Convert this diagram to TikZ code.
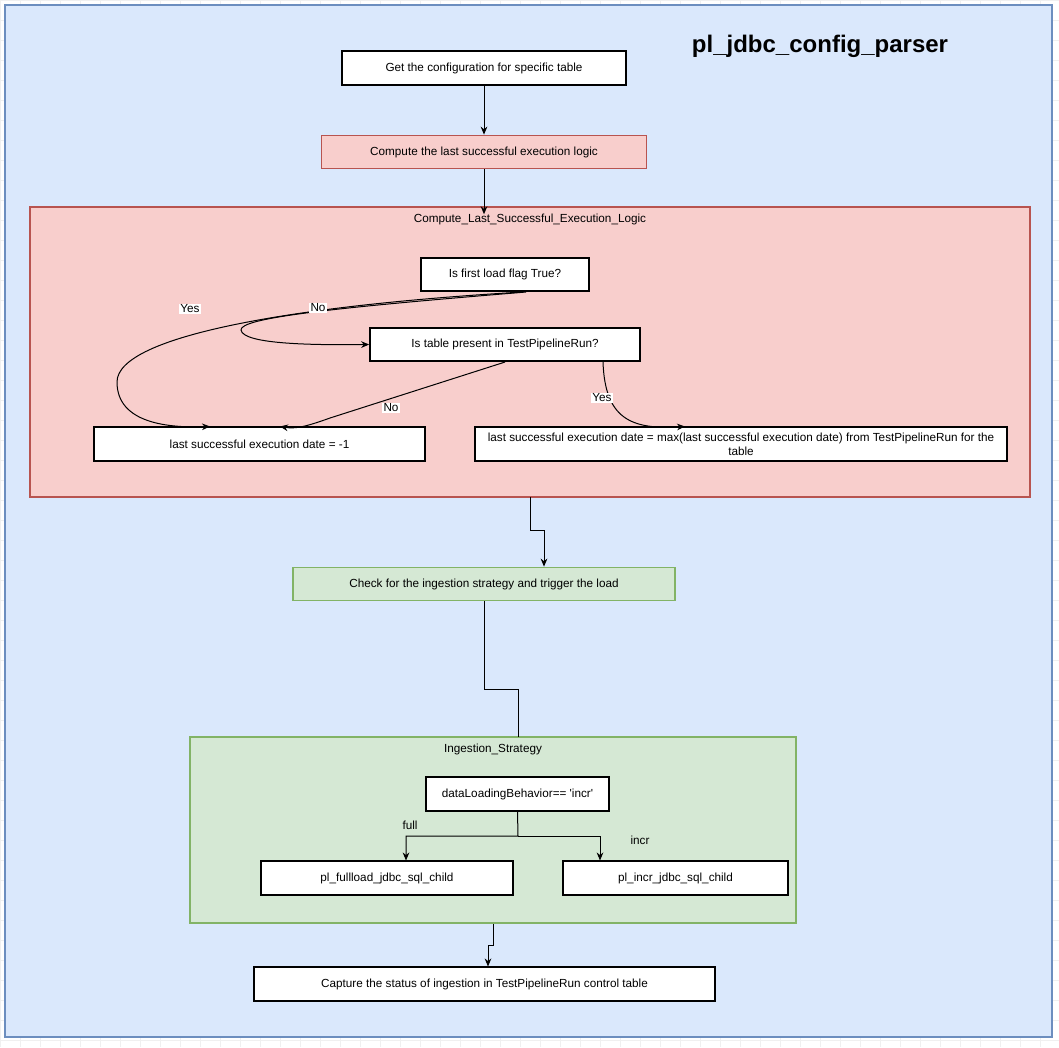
\documentclass[tikz,border=0pt]{standalone}
\usepackage{fontspec}
\setmainfont{Liberation Sans}
\usetikzlibrary{arrows.meta,positioning,calc}
\definecolor{panelblue}{HTML}{DAE8FC}
\definecolor{panelblueline}{HTML}{6C8EBF}
\definecolor{logicpink}{HTML}{F8CECC}
\definecolor{logicpinkline}{HTML}{B85450}
\definecolor{strategygreen}{HTML}{D5E8D4}
\definecolor{strategygreenline}{HTML}{82B366}
\tikzset{
  txt/.style={font=\fontsize{8.8}{10.5}\selectfont},
  stepbox/.style={txt, draw=black, line width=1.3pt, fill=white, inner sep=2pt, minimum height=25pt, align=center},
  pinkbox/.style={stepbox, fill=logicpink, draw=logicpinkline, line width=1.1pt},
  greenbox/.style={stepbox, fill=strategygreen, draw=strategygreenline, line width=1.1pt},
  groupbox/.style={draw, line width=1.1pt, inner sep=0pt},
  edgelabel/.style={txt, fill=white, inner sep=1pt},
  flow/.style={-{Stealth[length=6pt,width=5pt]}, line width=0.75pt},
}

\begin{document}
\begin{tikzpicture}[x=0.75pt, y=-0.75pt]
\useasboundingbox (0,0) rectangle (1059,1047);
% canvas grid and outer panel
\foreach \gx in {0,20,...,1060} \draw[black!6] (\gx,0) -- (\gx,1047);
\foreach \gy in {0,20,...,1040} \draw[black!6] (0,\gy) -- (1059,\gy);
\draw[fill=panelblue, draw=panelblueline, line width=1.1pt] (5,5) rectangle (1052,1037);
\node[font=\fontsize{18}{21}\selectfont\bfseries] (title) at (820,46) {pl\_jdbc\_config\_parser};

% top steps
\node[stepbox, minimum width=213pt] (config) at (484,68) {Get the configuration for specific table};
\node[pinkbox, minimum width=243.75pt] (compute) at (484,152) {Compute the last successful execution logic};

% compute group
\node[groupbox, fill=logicpink, draw=logicpinkline, minimum width=750pt, minimum height=217.5pt] (logic) at (530,352) {};
\node[txt] (logictitle) at (530,219) {Compute\_Last\_Successful\_Execution\_Logic};
\node[stepbox, minimum width=126pt] (firstload) at (505,274.5) {Is first load flag True?};
\node[stepbox, minimum width=202.5pt] (present) at (505,344.5) {Is table present in TestPipelineRun?};
\node[stepbox, minimum width=248.25pt] (minusone) at (259.5,444) {last successful execution date = -1};
\node[stepbox, minimum width=399pt, inner sep=1pt] (maxdate) at (741,444)
  {last successful execution date = max(last successful execution date) from TestPipelineRun for the\\table};

\draw[flow] (config) -- (compute);
\draw[flow] (compute.south) -- ($(compute.south |- logic.north)+(0,8)$);

% decisions
\draw[flow] ($(firstload.south)+(17,0)$) .. controls (300,305) and (117,335) .. (117,382)
  .. controls (117,424) and (170,428) .. ($(minusone.north)+(-49.5,0)$);
\draw[flow] ($(firstload.south)+(21,0)$) .. controls (330,308) and (240,318) .. (241,330)
  .. controls (243,345) and (320,345) .. (present.west);
\draw[flow] (present.south) -- (330,418) .. controls (305,427) and (295,429) .. ($(minusone.north)+(20.5,0)$);
\draw[flow] ($(present.south)+(98,0)$) .. controls (605,418) and (630,430) .. ($(maxdate.north)+(-56,0)$);
\node[edgelabel] (yesfirst) at (190,309) {Yes};
\node[edgelabel] (nofirst) at (318,308) {No};
\node[edgelabel] (nopresent) at (391,408) {No};
\node[edgelabel] (yespresent) at (602,398) {Yes};

% ingestion strategy
\node[greenbox, minimum width=286.5pt] (check) at (484,584) {Check for the ingestion strategy and trigger the load};
\draw[flow] (530,497) -- (530,530) -| ($(check.north)+(60,0)$);

\node[groupbox, fill=strategygreen, draw=strategygreenline, minimum width=454.5pt, minimum height=139.5pt] (strategy) at (493,830) {};
\node[txt] (strategytitle) at (493,749) {Ingestion\_Strategy};
\node[stepbox, minimum width=137.25pt] (behavior) at (517.5,794) {dataLoadingBehavior== \textquotesingle incr\textquotesingle};
\node[stepbox, minimum width=189pt] (fullchild) at (387,878) {pl\_fullload\_jdbc\_sql\_child};
\node[stepbox, minimum width=168.75pt] (incrchild) at (675.5,878) {pl\_incr\_jdbc\_sql\_child};

\draw[line width=0.75pt] (check.south) -- (484,689) -- (518,689) -- (518,737);
\draw[flow] (behavior.south) -- (518,836) -| ($(fullchild.north)+(19,0)$);
\draw[flow] (518,836) -| ($(incrchild.north)+(-75.5,0)$);
\node[txt] (fulllabel) at (410,825) {full};
\node[txt] (incrlabel) at (640,840) {incr};

% final step
\node[stepbox, minimum width=345.75pt] (capture) at (484.5,984) {Capture the status of ingestion in TestPipelineRun control table};
\draw[flow] (strategy.south) -- (493,945) -- (488,945) -- ($(capture.north)+(3.5,0)$);
\end{tikzpicture}
\end{document}
